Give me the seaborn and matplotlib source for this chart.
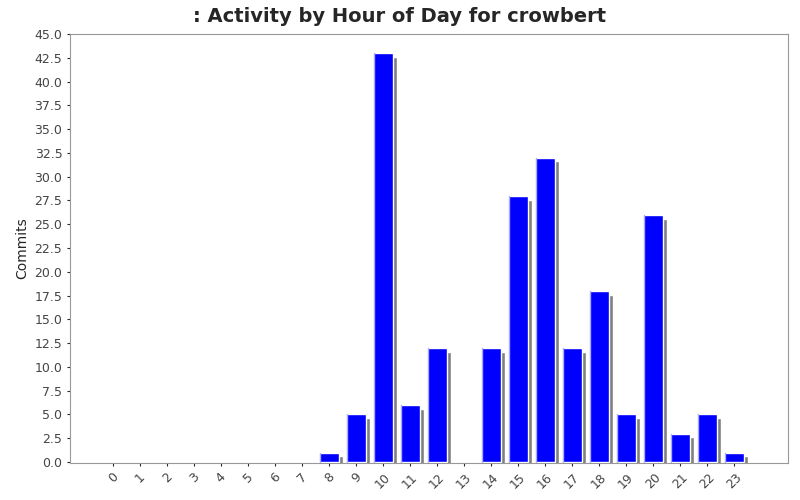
import numpy as np
import pandas as pd
import matplotlib
matplotlib.use("Agg")
import matplotlib.pyplot as plt
import seaborn as sns

hours = [str(h) for h in range(24)]
commits = [0, 0, 0, 0, 0, 0, 0, 0, 1, 5, 43, 6, 12, 0, 12, 28, 32, 12, 18, 5, 26, 3, 5, 1]

df = pd.DataFrame({"hour": hours, "commits": commits})

sns.set_style("white")
plt.rcParams['font.family'] = ['DejaVu Sans']

fig = plt.figure(figsize=(8, 5), dpi=100)
ax = fig.add_axes([0.0875, 0.074, 0.8975, 0.858])

x = np.arange(len(hours))
vals = np.array(commits, dtype=float)
# shadow bars, offset right and down
ax.bar(x + 0.15, np.where(vals > 0, vals, 0), bottom=-0.4, width=0.72,
       color="#808080", zorder=1)
sns.barplot(data=df, x="hour", y="commits", color="#0000ff", saturation=1,
            width=0.72, ax=ax, zorder=2)
# highlight on left edge of bars
for xi, v in zip(x, vals):
    if v > 0:
        ax.plot([xi - 0.33, xi - 0.33], [0, v], color="#aaaaff", lw=1, zorder=3)

ax.set_xlim(-1.6, 25.0)
ax.set_ylim(-0.1, 45)
ax.set_yticks(np.arange(0, 45.1, 2.5))
ax.set_yticklabels([f"{t:.1f}" for t in np.arange(0, 45.1, 2.5)], fontsize=9, color="#444444")
ax.set_xticks(x)
ax.set_xticklabels(hours, rotation=45, fontsize=9, color="#444444")
ax.tick_params(axis="both", length=2, direction="out", left=True, bottom=True)
ax.set_xlabel("")
ax.set_ylabel("Commits", fontsize=10)
for s in ax.spines.values():
    s.set_color("#999999")
    s.set_linewidth(0.8)
fig.suptitle(": Activity by Hour of Day for crowbert", fontsize=14, fontweight="bold", y=0.985)

fig.savefig("out.png", dpi=100)
